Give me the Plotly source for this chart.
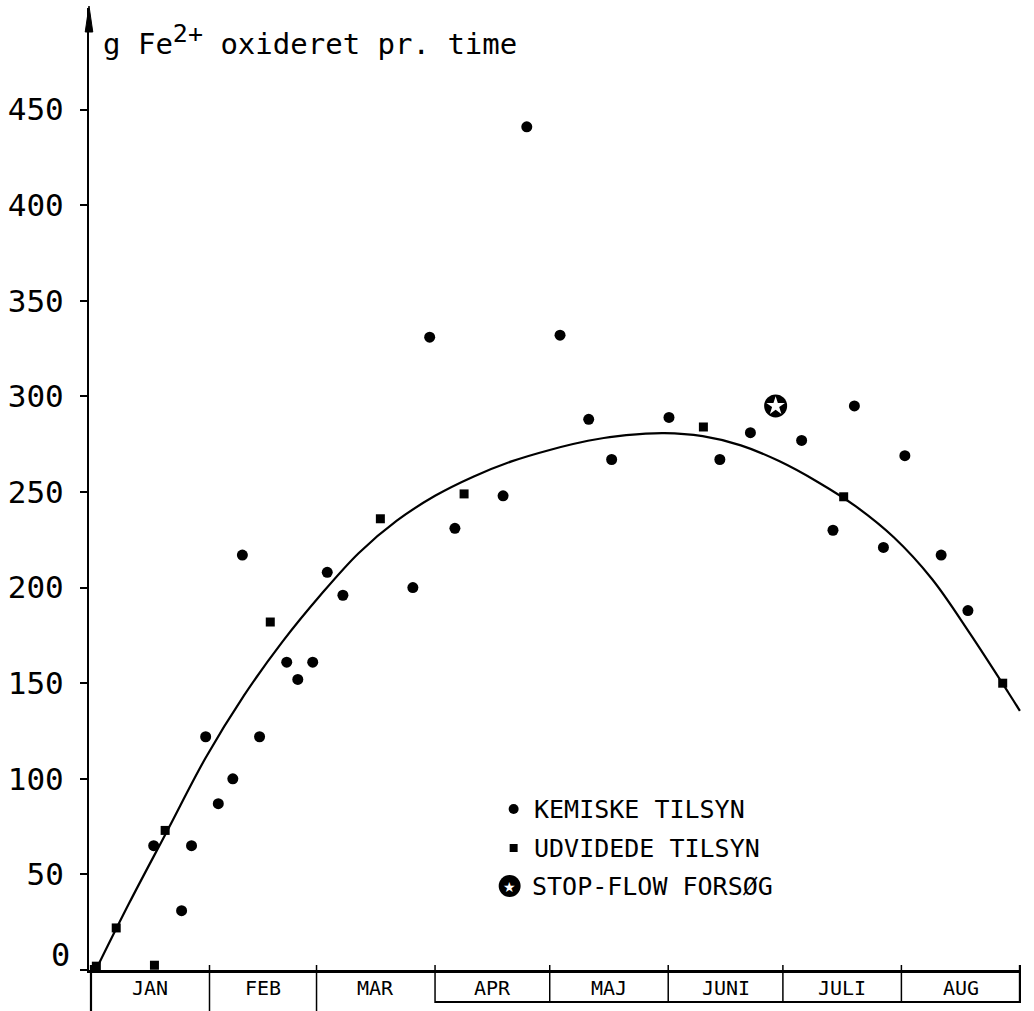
import plotly.graph_objects as go

# Months along the bottom (day-of-year boundaries)
month_names = ["JAN", "FEB", "MAR", "APR", "MAJ", "JUNI", "JULI", "AUG"]
month_edges = [0, 31, 59, 90, 120, 151, 181, 212, 243]

# Kemiske tilsyn (day of year, g Fe2+ per hour)
kemiske_day = [16.4, 23.7, 26.3, 30.0, 33.3, 37.1, 39.6, 44.1, 51.2, 54.1, 58.0,
               61.8, 65.9, 84.2, 88.6, 95.2, 107.8, 114.0, 122.7, 130.2, 136.2,
               151.2, 164.5, 172.5, 185.9, 194.1, 199.7, 207.3, 212.9, 222.4, 229.4]
kemiske_val = [65, 31, 65, 122, 87, 100, 217, 122, 161, 152, 161,
               208, 196, 200, 331, 231, 248, 441, 332, 288, 267,
               289, 267, 281, 277, 230, 295, 221, 269, 217, 188]

# Udvidede tilsyn
udvidede_day = [1.4, 6.6, 16.6, 19.4, 46.9, 75.7, 97.6, 160.2, 196.9, 238.5]
udvidede_val = [2, 22, 2.5, 73, 182, 236, 249, 284, 247.5, 150]

# Stop-flow forsoeg
stopflow_day = [179.1]
stopflow_val = [295]

# Hand-drawn trend curve
curve_day = [2, 10, 20, 30, 40, 50, 60, 70, 80, 90, 100, 110, 120, 130, 140,
             150, 160, 170, 180, 190, 200, 210, 220, 230, 240, 243]
curve_val = [3, 35, 73, 111, 143.5, 171.5, 196, 218, 235, 248, 258, 266, 272,
             276.8, 279.7, 280.8, 279.2, 274.4, 266.2, 255.4, 242.6, 226.3,
             204.5, 175.8, 145, 135.5]

y_ticks = [0, 50, 100, 150, 200, 250, 300, 350, 400, 450]

W, H = 1034, 1011
L, R, T, B = 86, 13, 8, 41
PW, PH = W - L - R, H - T - B
FONT = "DejaVu Sans Mono"


def px(xp):
    return (xp - L) / PW


def py(yp):
    return (H - B - yp) / PH


fig = go.Figure()

fig.add_trace(go.Scatter(
    x=curve_day, y=curve_val, mode="lines", line_shape="spline",
    line=dict(color="black", width=2.2), hoverinfo="skip", showlegend=False))

fig.add_trace(go.Scatter(
    x=kemiske_day, y=kemiske_val, mode="markers", name="KEMISKE TILSYN",
    marker=dict(symbol="circle", size=11, color="black"),
    cliponaxis=False, showlegend=False))

fig.add_trace(go.Scatter(
    x=udvidede_day, y=udvidede_val, mode="markers", name="UDVIDEDE TILSYN",
    marker=dict(symbol="square", size=9, color="black"),
    cliponaxis=False, showlegend=False))

fig.add_trace(go.Scatter(
    x=stopflow_day, y=stopflow_val, mode="markers", name="STOP-FLOW FORSØG",
    marker=dict(symbol="circle", size=23, color="black"),
    cliponaxis=False, showlegend=False))
fig.add_trace(go.Scatter(
    x=stopflow_day, y=stopflow_val, mode="markers", hoverinfo="skip",
    marker=dict(symbol="star", size=14, color="white", line=dict(width=0)),
    cliponaxis=False, showlegend=False))

shapes = []
# month separators below the x axis
for e in month_edges:
    bottom = py(1011) if e < 90 else py(1003)
    shapes.append(dict(type="line", xref="x", yref="paper", x0=e, x1=e,
                       y0=py(965), y1=bottom,
                       line=dict(color="black", width=1.5 if 0 < e < 243 else 2.2)))
# bottom edge of the month row
shapes.append(dict(type="line", xref="x", yref="paper",
                   x0=month_edges[3], x1=month_edges[-1],
                   y0=py(1002), y1=py(1002), line=dict(color="black", width=2)))
# arrow head on the y axis
ah_w = 3.8 / PW
shapes.append(dict(type="path", xref="paper", yref="paper",
                   path=f"M {-ah_w} {py(32)} L 0 {py(6)} L {ah_w} {py(32)} Z",
                   fillcolor="black", line=dict(color="black", width=1)))

annotations = []
for i, name in enumerate(month_names):
    mid = (month_edges[i] + month_edges[i + 1]) / 2
    annotations.append(dict(x=mid, y=py(988), xref="x", yref="paper",
                            text=name, showarrow=False,
                            font=dict(family=FONT, size=20, color="black"),
                            xanchor="center", yanchor="middle"))
# zero label sits a little above the axis line
annotations.append(dict(x=px(69), y=py(955), xref="paper", yref="paper",
                        text="0", showarrow=False, xanchor="right", yanchor="middle",
                        font=dict(family=FONT, size=32, color="black")))
# axis title
annotations.append(dict(x=px(98), y=py(40), xref="paper", yref="paper",
                        text='g Fe<sup><span style="font-size:25px">2+</span></sup> oxideret pr. time',
                        showarrow=False, xanchor="left", yanchor="middle",
                        font=dict(family=FONT, size=29, color="black")))

# legend drawn by hand
leg_rows = [("circle", 809, "KEMISKE TILSYN", 530),
            ("square", 848, "UDVIDEDE TILSYN", 530),
            ("stop", 886, "STOP-FLOW FORSØG", 528)]
for kind, yp, label, tx in leg_rows:
    if kind == "circle":
        r = 5
        shapes.append(dict(type="circle", xref="paper", yref="paper",
                           x0=px(512 - r), x1=px(512 + r), y0=py(yp + r), y1=py(yp - r),
                           fillcolor="black", line=dict(width=0)))
    elif kind == "square":
        r = 4
        shapes.append(dict(type="rect", xref="paper", yref="paper",
                           x0=px(512 - r), x1=px(512 + r), y0=py(yp + r), y1=py(yp - r),
                           fillcolor="black", line=dict(width=0)))
    else:
        r = 11
        shapes.append(dict(type="circle", xref="paper", yref="paper",
                           x0=px(508 - r), x1=px(508 + r), y0=py(yp + r), y1=py(yp - r),
                           fillcolor="black", line=dict(width=0)))
        annotations.append(dict(x=px(508), y=py(yp + 1), xref="paper", yref="paper",
                                text="★", showarrow=False, xanchor="center",
                                yanchor="middle",
                                font=dict(family="DejaVu Sans", size=14, color="white")))
    annotations.append(dict(x=px(tx), y=py(yp), xref="paper", yref="paper",
                            text=label, showarrow=False, xanchor="left",
                            yanchor="middle",
                            font=dict(family=FONT, size=25, color="black")))

fig.update_layout(
    width=W, height=H,
    margin=dict(l=L, r=R, t=T, b=B, pad=0),
    paper_bgcolor="white", plot_bgcolor="white",
    shapes=shapes, annotations=annotations,
    showlegend=False,
    xaxis=dict(range=[-(88 - L) / 3.835, (W - R - 88) / 3.835],
               showgrid=False, zeroline=False, showticklabels=False, ticks="",
               showline=True, linecolor="black", linewidth=3, fixedrange=True),
    yaxis=dict(range=[0, PH / 1.912], tickvals=y_ticks,
               ticktext=[""] + [str(v) for v in y_ticks[1:]],
               showgrid=False, zeroline=False,
               ticks="outside", ticklen=7, tickwidth=1.5, tickcolor="black",
               ticklabelstandoff=10,
               showline=True, linecolor="black", linewidth=2,
               tickfont=dict(family=FONT, size=31, color="black"),
               fixedrange=True),
)

fig.write_html("out.html")
